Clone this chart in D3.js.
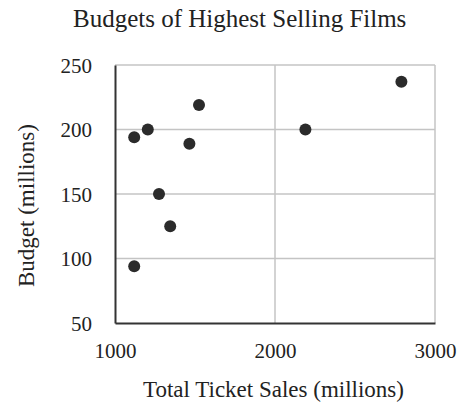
<!DOCTYPE html>
<html>
<head>
<meta charset="utf-8">
<script src="https://cdn.jsdelivr.net/npm/d3@7"></script>
<style>
  body { margin: 0; background: #fff; }
  svg text { font-family: "Liberation Serif", "Times New Roman", serif; fill: #222; }
</style>
</head>
<body>
<div id="chart"></div>
<script>
// data
var sales = [1120, 1205, 1525, 1465, 1275, 1345, 1120, 2190, 2790];
var budgets = [194, 200, 219, 189, 150, 125, 94, 200, 237];
var xTicks = [1000, 2000, 3000];
var yTicks = [50, 100, 150, 200, 250];

var width = 466, height = 404;
var margin = { top: 65, right: 31, bottom: 81, left: 115 };
var serif = "'Liberation Serif', 'Times New Roman', serif";

var svg = d3.select("#chart").append("svg")
  .attr("width", width)
  .attr("height", height);

var x = d3.scaleLinear().domain([1000, 3000]).range([margin.left, width - margin.right]);
var y = d3.scaleLinear().domain([50, 250]).range([height - margin.bottom, margin.top]);

// grid lines
svg.append("g")
  .selectAll("line")
  .data(yTicks.slice(1))
  .enter().append("line")
  .attr("x1", x(1000)).attr("x2", x(3000))
  .attr("y1", function (d) { return y(d); })
  .attr("y2", function (d) { return y(d); })
  .style("stroke", "#c4c4c4")
  .style("stroke-width", 1.5);

svg.append("g")
  .selectAll("line")
  .data(xTicks.slice(1))
  .enter().append("line")
  .attr("y1", y(50)).attr("y2", y(250))
  .attr("x1", function (d) { return x(d); })
  .attr("x2", function (d) { return x(d); })
  .style("stroke", "#c4c4c4")
  .style("stroke-width", 1.5);

// axes
var xAxis = svg.append("g")
  .attr("transform", "translate(0," + y(50) + ")")
  .call(d3.axisBottom(x).tickValues(xTicks).tickSize(0).tickPadding(20).tickFormat(d3.format("d")));
var yAxis = svg.append("g")
  .attr("transform", "translate(" + x(1000) + ",0)")
  .call(d3.axisLeft(y).tickValues(yTicks).tickSize(0).tickPadding(23));

[xAxis, yAxis].forEach(function (a) {
  a.attr("font-family", serif).attr("font-size", 21);
  a.select(".domain").style("stroke", "#333").style("stroke-width", 2);
  a.selectAll("text")
    .style("font-family", serif)
    .style("font-size", "21px")
    .style("fill", "#222");
});
yAxis.selectAll("text").attr("dy", "0.35em");

// points
svg.append("g")
  .selectAll("circle")
  .data(sales)
  .enter().append("circle")
  .attr("cx", function (d) { return x(d); })
  .attr("cy", function (d, i) { return y(budgets[i]); })
  .attr("r", 6)
  .style("fill", "#2b2b2b");

// titles
svg.append("text")
  .attr("x", 73).attr("y", 27)
  .style("font-size", "25px")
  .text("Budgets of Highest Selling Films");

svg.append("text")
  .attr("x", 143).attr("y", 397)
  .style("font-size", "23px")
  .text("Total Ticket Sales (millions)");

svg.append("text")
  .attr("transform", "translate(34,287) rotate(-90)")
  .style("font-size", "23px")
  .text("Budget (millions)");
</script>
</body>
</html>
